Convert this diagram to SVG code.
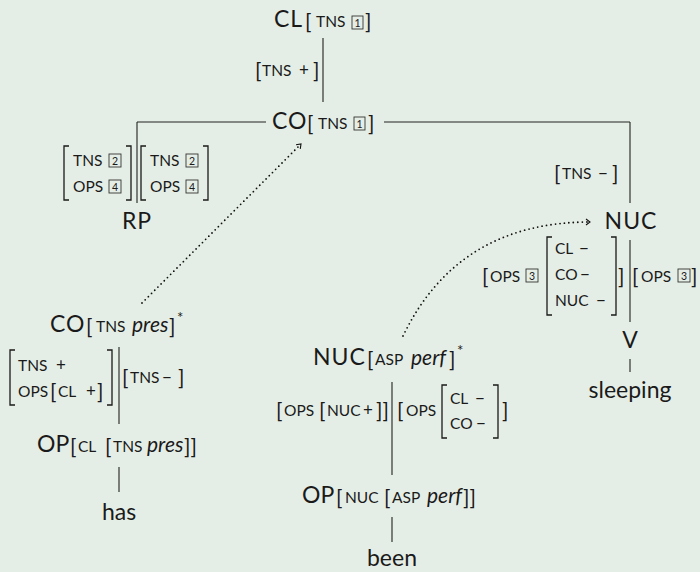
<svg xmlns="http://www.w3.org/2000/svg" width="700" height="572" viewBox="0 0 700 572">
<defs>
<style>
text{font-family:Lato,"Open Sans","DejaVu Sans",sans-serif;fill:#1a1a1a}
.m{font-size:23px}
.k{letter-spacing:1px}
.s{font-size:15.5px}
.b{font-size:21px}
.i{font-size:21px;font-style:italic}
.o{font-size:17px}
.st{font-size:15px}
.d{font-size:10.5px;text-anchor:middle}
.c{text-anchor:middle}
.box{fill:none;stroke:#333;stroke-width:0.9}
.br{fill:none;stroke:#1a1a1a;stroke-width:1.3}
.ln{stroke:#222;stroke-width:1.1;fill:none}
.dot{stroke:#111;stroke-width:1.8;fill:none;stroke-linecap:round;stroke-dasharray:0 4.5}
</style>
<marker id="ah" viewBox="-6 -5 8 10" markerWidth="8" markerHeight="10" refX="0" refY="0" orient="auto" markerUnits="userSpaceOnUse">
<path d="M-4,-3 L0,0 L-4,3" fill="none" stroke="#111" stroke-width="1.1"/>
</marker>
</defs>
<rect width="700" height="572" fill="#e5eee6"/>

<g id="connectors">
<line class="ln" x1="323" y1="38" x2="323" y2="102"/>
<line class="ln" x1="137" y1="122" x2="266" y2="122"/>
<line class="ln" x1="384" y1="122" x2="630" y2="122"/>
<line class="ln" x1="137" y1="122" x2="137" y2="203"/>
<line class="ln" x1="630" y1="122" x2="630" y2="203"/>
<line class="ln" x1="630" y1="240" x2="630" y2="322"/>
<line class="ln" x1="630" y1="359" x2="630" y2="372"/>
<line class="ln" x1="119" y1="347" x2="119" y2="424"/>
<line class="ln" x1="119" y1="467" x2="119" y2="492"/>
<line class="ln" x1="392" y1="382" x2="392" y2="475"/>
<line class="ln" x1="392" y1="517" x2="392" y2="542"/>
<path class="dot" d="M142 303 L301 144" marker-end="url(#ah)"/>
<path class="dot" d="M403 336 Q458 222 590 222" marker-end="url(#ah)"/>
</g>

<g id="CL">
<text><tspan class="m k" x="274" y="27">CL</tspan><tspan class="b" x="305" y="28.5">[</tspan><tspan class="s" x="316" y="27">TNS</tspan><tspan class="b" x="365" y="28.5">]</tspan></text>
<rect class="box" x="352" y="16" width="11" height="13"/>
<text class="d" x="357.5" y="26.5">1</text>
</g>

<g id="label-tns-plus">
<text><tspan class="b" x="255" y="77.5">[</tspan><tspan class="s" x="262" y="76">TNS</tspan><tspan class="o" x="299" y="76">+</tspan><tspan class="b" x="313" y="77.5">]</tspan></text>
</g>

<g id="CO">
<text><tspan class="m k" x="272" y="129">CO</tspan><tspan class="b" x="307" y="130.5">[</tspan><tspan class="s" x="318" y="129">TNS</tspan><tspan class="b" x="368" y="130.5">]</tspan></text>
<rect class="box" x="354" y="117" width="11" height="13"/>
<text class="d" x="359.5" y="127.5">1</text>
</g>

<g id="RP-features">
<path class="br" d="M69 146 H64 V200 H69"/>
<path class="br" d="M126 146 H131 V200 H126"/>
<text><tspan class="s" x="73" y="166">TNS</tspan><tspan class="s" x="73" y="192">OPS</tspan></text>
<rect class="box" x="109" y="154" width="12" height="13"/>
<text class="d" x="115" y="164.5">2</text>
<rect class="box" x="109" y="180" width="12" height="13"/>
<text class="d" x="115" y="190.5">4</text>
<path class="br" d="M146 146 H141 V200 H146"/>
<path class="br" d="M203 146 H208 V200 H203"/>
<text><tspan class="s" x="150" y="166">TNS</tspan><tspan class="s" x="150" y="192">OPS</tspan></text>
<rect class="box" x="186" y="154" width="12" height="13"/>
<text class="d" x="192" y="164.5">2</text>
<rect class="box" x="186" y="180" width="12" height="13"/>
<text class="d" x="192" y="190.5">4</text>
</g>

<g id="RP">
<text class="m k c" x="137" y="229">RP</text>
</g>

<g id="label-tns-minus-right">
<text><tspan class="b" x="554" y="180.5">[</tspan><tspan class="s" x="562" y="179">TNS</tspan><tspan class="o" x="598" y="179">−</tspan><tspan class="b" x="612" y="180.5">]</tspan></text>
</g>

<g id="NUC">
<text class="m k c" x="631" y="229">NUC</text>
</g>

<g id="NUC-features">
<text><tspan class="b" x="482" y="283.5">[</tspan><tspan class="s" x="490" y="282">OPS</tspan></text>
<rect class="box" x="526" y="269" width="12" height="13"/>
<text class="d" x="532" y="279.5">3</text>
<path class="br" d="M552 237 H547 V315 H552"/>
<text><tspan class="s" x="555" y="254">CL</tspan><tspan class="o" x="579" y="254">−</tspan><tspan class="s" x="555" y="280">CO</tspan><tspan class="o" x="580" y="280">−</tspan><tspan class="s" x="555" y="306">NUC</tspan><tspan class="o" x="596" y="306">−</tspan></text>
<path class="br" d="M611 237 H616 V315 H611"/>
<text><tspan class="b" x="618" y="283.5">]</tspan></text>
<text><tspan class="b" x="632" y="283.5">[</tspan><tspan class="s" x="641" y="282">OPS</tspan><tspan class="b" x="691" y="283.5">]</tspan></text>
<rect class="box" x="678" y="269" width="12" height="13"/>
<text class="d" x="684" y="279.5">3</text>
</g>

<g id="V">
<text class="m c" x="630" y="348">V</text>
</g>

<g id="sleeping">
<text class="m c" x="630" y="398">sleeping</text>
</g>

<g id="CO-pres">
<text><tspan class="m k" x="50" y="332">CO</tspan><tspan class="b" x="86" y="333.5">[</tspan><tspan class="s" x="96" y="332">TNS</tspan><tspan class="i" x="132" y="332">pres</tspan><tspan class="b" x="169" y="333.5">]</tspan><tspan class="st" x="177" y="323">*</tspan></text>
</g>

<g id="CO-pres-features">
<path class="br" d="M15 350 H10 V405 H15"/>
<path class="br" d="M107 350 H112 V405 H107"/>
<text><tspan class="s" x="18" y="371">TNS</tspan><tspan class="o" x="56" y="371">+</tspan><tspan class="s" x="18" y="397">OPS</tspan><tspan class="b" x="50" y="398.5">[</tspan><tspan class="s" x="58" y="397">CL</tspan><tspan class="o" x="86" y="397">+</tspan><tspan class="b" x="97" y="398.5">]</tspan></text>
<text><tspan class="b" x="122" y="384.5">[</tspan><tspan class="s" x="130" y="383">TNS</tspan><tspan class="o" x="162" y="383">−</tspan><tspan class="b" x="178" y="384.5">]</tspan></text>
</g>

<g id="OP-pres">
<text><tspan class="m" x="37" y="452">OP</tspan><tspan class="b" x="70" y="453.5">[</tspan><tspan class="s" x="78" y="452">CL</tspan><tspan class="b" x="105" y="453.5">[</tspan><tspan class="s" x="113" y="452">TNS</tspan><tspan class="i" x="147" y="452">pres</tspan><tspan class="b" x="184" y="453.5">]]</tspan></text>
</g>

<g id="has">
<text class="m c" x="119" y="520">has</text>
</g>

<g id="NUC-perf">
<text><tspan class="m k" x="313" y="365">NUC</tspan><tspan class="b" x="367" y="366.5">[</tspan><tspan class="s" x="375" y="365">ASP</tspan><tspan class="i" x="411" y="365">perf</tspan><tspan class="b" x="449" y="366.5">]</tspan><tspan class="st" x="457" y="356">*</tspan></text>
</g>

<g id="NUC-perf-features">
<text><tspan class="b" x="276" y="417.5">[</tspan><tspan class="s" x="284" y="416">OPS</tspan><tspan class="b" x="319" y="417.5">[</tspan><tspan class="s" x="327" y="416">NUC</tspan><tspan class="o" x="363" y="416">+</tspan><tspan class="b" x="376" y="417.5">]]</tspan></text>
<text><tspan class="b" x="397" y="417.5">[</tspan><tspan class="s" x="406" y="416">OPS</tspan><tspan class="b" x="502" y="417.5">]</tspan></text>
<path class="br" d="M447 385 H442 V438 H447"/>
<text><tspan class="s" x="450" y="404">CL</tspan><tspan class="o" x="475" y="404">−</tspan><tspan class="s" x="450" y="429">CO</tspan><tspan class="o" x="476" y="429">−</tspan></text>
<path class="br" d="M493 385 H498 V438 H493"/>
</g>

<g id="OP-perf">
<text><tspan class="m" x="302" y="503">OP</tspan><tspan class="b" x="336" y="504.5">[</tspan><tspan class="s" x="345" y="503">NUC</tspan><tspan class="b" x="384" y="504.5">[</tspan><tspan class="s" x="392" y="503">ASP</tspan><tspan class="i" x="427" y="503">perf</tspan><tspan class="b" x="463" y="504.5">]]</tspan></text>
</g>

<g id="been">
<text class="m c" x="392" y="566">been</text>
</g>
</svg>
